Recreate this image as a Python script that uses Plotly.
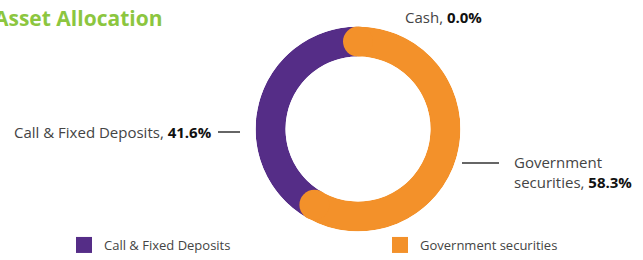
import plotly.graph_objects as go

# ---- data ----
categories = ["Government securities", "Call & Fixed Deposits", "Cash"]
values = [58.3, 41.6, 0.0]
colors = ["#F3912A", "#552D87", "#BBBBBB"]
legend_order = ["Call & Fixed Deposits", "Government securities"]
title_text = "Asset Allocation"

W, H = 643, 260
ORANGE = colors[0]
TXT = "#444444"
BOLD = "#111111"
FONT = "Open Sans"

# cumulative angles (clockwise from top)
starts, spans = [], []
acc = 0.0
for v in values:
    starts.append(acc / 100 * 360)
    spans.append(v / 100 * 360)
    acc += v

fig = go.Figure()

# ring segments: draw purple first, then orange on top
draw_order = [1, 2, 0]
for i in draw_order:
    if values[i] <= 0:
        continue
    fig.add_trace(go.Barpolar(
        r=[1], base=[0],
        theta=[starts[i] + spans[i] / 2], width=[spans[i]],
        marker=dict(color=colors[i], line=dict(width=0)),
        name=categories[i], showlegend=False, hoverinfo="skip",
    ))

# rounded caps on the orange (largest) segment
fig.add_trace(go.Scatterpolar(
    r=[0.5, 0.5], theta=[starts[0], starts[0] + spans[0]],
    mode="markers",
    marker=dict(size=30, color=ORANGE, line=dict(width=0)),
    showlegend=False, hoverinfo="skip",
))

# legend entries (one legend box each, so they can be placed apart)
for k, name in enumerate(legend_order):
    i = categories.index(name)
    fig.add_trace(go.Scatterpolar(
        r=[None], theta=[None], mode="markers",
        marker=dict(symbol="square", size=18, color=colors[i]),
        name=name, showlegend=True,
        legend="legend" if k == 0 else "legend2",
    ))

def px(x):
    return x / W

def py(y):
    return (H - y) / H

def ann(text, x, y, xanchor, size=15, color=TXT, align="left"):
    return dict(text=text, x=px(x), y=py(y), xref="paper", yref="paper",
                xanchor=xanchor, yanchor="middle", showarrow=False, align=align,
                font=dict(size=size, color=color, family=FONT))

def bold(s):
    return f"<b><span style='color:{BOLD}'>{s}</span></b>"

annotations = [
    ann(f"<b>{title_text}</b>", 164, 18, "right", size=21, color="#8CC63F"),
    ann(f"{categories[2]}, " + bold(f"{values[2]:.1f}%"), 403, 17, "left"),
    ann(f"{categories[1]}, " + bold(f"{values[1]:.1f}%"), 214, 132, "right"),
    ann(f"Government<br>securities, " + bold(f"{values[0]:.1f}%"), 512, 172, "left"),
]

shapes = [
    dict(type="line", xref="paper", yref="paper", x0=px(218), x1=px(240), y0=py(132), y1=py(132),
         line=dict(color="#333333", width=1.5)),
    dict(type="line", xref="paper", yref="paper", x0=px(462), x1=px(499), y0=py(163), y1=py(163),
         line=dict(color="#333333", width=1.5)),
]

legend_common = dict(
    orientation="h", y=0.0, xanchor="left", yanchor="bottom",
    font=dict(size=13, color=TXT, family=FONT),
    bgcolor="rgba(0,0,0,0)", itemsizing="trace",
)

fig.update_layout(
    width=W, height=H,
    margin=dict(l=0, r=0, t=0, b=0),
    paper_bgcolor="white", plot_bgcolor="white",
    font=dict(family=FONT, color=TXT),
    polar=dict(
        domain=dict(x=[px(255.5), px(460.5)], y=[py(231.5), py(26.5)]),
        bgcolor="rgba(0,0,0,0)",
        hole=0.707,
        radialaxis=dict(visible=False, range=[0, 1]),
        angularaxis=dict(visible=False, rotation=90, direction="clockwise"),
    ),
    showlegend=True,
    legend=dict(x=px(64), **legend_common),
    legend2=dict(x=px(380), **legend_common),
    annotations=annotations,
    shapes=shapes,
)

fig.write_html("out.html", config={"displayModeBar": False},
               post_script="document.body.style.margin='0';")
